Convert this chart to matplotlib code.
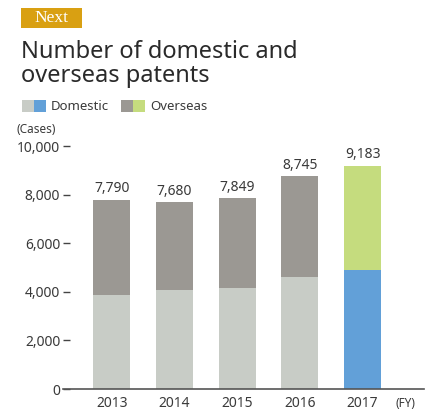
import matplotlib.pyplot as plt
from matplotlib.patches import Rectangle

years = ['2013', '2014', '2015', '2016', '2017']
totals = [7790, 7680, 7849, 8745, 9183]
domestic = [3870, 4070, 4150, 4600, 4900]
overseas = [t - d for t, d in zip(totals, domestic)]

plt.rcParams['font.family'] = ['Noto Sans', 'DejaVu Sans']
txt = '#3a3a3a'

dom_old, dom_new = '#c8ccc6', '#62a0d8'
ovs_old, ovs_new = '#9b9893', '#c5dc7e'
dom_colors = [dom_old] * 4 + [dom_new]
ovs_colors = [ovs_old] * 4 + [ovs_new]

W, H = 440, 415
fig = plt.figure(figsize=(W / 100, H / 100), dpi=100)
ax = fig.add_axes([63 / W, 1 - 389 / H, (424 - 63) / W, (389 - 146) / H])

x = list(range(len(years)))
ax.bar(x, domestic, width=0.59, color=dom_colors, zorder=2)
ax.bar(x, overseas, width=0.59, bottom=domestic, color=ovs_colors, zorder=2)

for xi, t in zip(x, totals):
    ax.text(xi, t + 150, f'{t:,}', ha='center', va='bottom', fontsize=10, color=txt)

ax.set_xlim(-0.78, 4.98)
ax.set_ylim(0, 10000)
ax.set_yticks(range(0, 10001, 2000))
ax.set_yticklabels([f'{v:,}' for v in range(0, 10001, 2000)])
ax.set_xticks(x)
ax.set_xticklabels(years)

for s in ['top', 'right', 'left']:
    ax.spines[s].set_visible(False)
ax.spines['bottom'].set_color('#555555')
ax.spines['bottom'].set_linewidth(1.2)
ax.tick_params(axis='y', direction='in', length=5, width=1, color='#444444',
               labelsize=10, labelcolor=txt, pad=2)
ax.tick_params(axis='x', length=0, labelsize=10, labelcolor=txt, pad=5)

fig.text(36 / W, 1 - 129 / H, '(Cases)', ha='center', va='center', fontsize=8.5, color=txt)
fig.text(405 / W, 1 - 403 / H, '(FY)', ha='center', va='center', fontsize=8.5, color=txt)

# badge
fig.patches.append(Rectangle((21 / W, 1 - 28 / H), 61 / W, 20 / H, transform=fig.transFigure,
                             facecolor='#d9a012', edgecolor='none'))
fig.text(51.5 / W, 1 - 18.5 / H, 'Next', ha='center', va='center', color='white',
         fontsize=12.5, family='Liberation Serif')

# title
fig.text(21 / W, 1 - 58 / H, 'Number of domestic and', ha='left', va='baseline',
         fontsize=17, color='#2a2a2a')
fig.text(21 / W, 1 - 82 / H, 'overseas patents', ha='left', va='baseline',
         fontsize=17, color='#2a2a2a')

# legend
def swatch(x0, c):
    fig.patches.append(Rectangle((x0 / W, 1 - 112 / H), 12 / W, 12 / H,
                                 transform=fig.transFigure, facecolor=c, edgecolor='none'))

swatch(22, dom_old)
swatch(34, dom_new)
fig.text(51 / W, 1 - 106 / H, 'Domestic', ha='left', va='center', fontsize=9.5, color=txt)
swatch(121, ovs_old)
swatch(133, ovs_new)
fig.text(150 / W, 1 - 106 / H, 'Overseas', ha='left', va='center', fontsize=9.5, color=txt)

fig.savefig('out.png', dpi=100)
